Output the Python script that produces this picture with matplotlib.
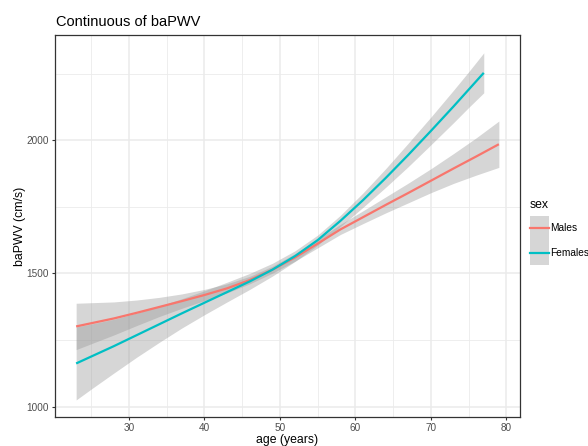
import numpy as np
import matplotlib
matplotlib.use('Agg')
import matplotlib.pyplot as plt
from matplotlib.patches import Rectangle
from matplotlib.lines import Line2D

plt.rcParams['font.family'] = ['Liberation Sans', 'DejaVu Sans']

# ---- valores ----
edad_h = [23, 25, 28, 31, 34, 37, 40, 43, 46, 49, 52, 55, 58, 61, 64, 67, 70, 73, 76, 79]
pwv_h = [1301, 1313, 1331, 1352, 1374, 1396, 1419, 1444, 1475, 1514, 1560, 1612,
         1665, 1711, 1757, 1802, 1848, 1894, 1939, 1985]
banda_h = [87, 77, 62, 48, 36, 27, 21, 17, 14, 13, 14, 16, 19, 24, 30, 37, 45, 56, 70, 87]

edad_m = [23, 25, 28, 31, 34, 37, 40, 43, 46, 49, 52, 55, 58, 61, 64, 67, 70, 73, 75, 77]
pwv_m = [1162, 1188, 1227, 1268, 1309, 1350, 1390, 1430, 1470, 1514, 1565, 1625,
         1697, 1775, 1858, 1945, 2035, 2127, 2190, 2253]
banda_m = [137, 122, 101, 83, 68, 55, 45, 37, 30, 24, 20, 19, 21, 27, 35, 44, 52, 61, 67, 75]

grupos = ['Males', 'Females']
colores = ['#F8766D', '#00BFC4']
x_ticks = [30, 40, 50, 60, 70, 80]
x_minor = [25, 35, 45, 55, 65, 75]
y_ticks = [1000, 1500, 2000]
y_minor = [1250, 1750, 2250]

W, H = 588, 446
fig = plt.figure(figsize=(W / 100, H / 100), dpi=100, facecolor='white')
ax = fig.add_axes([55 / W, 1 - 417 / H, 465 / W, 382 / H])
ax.set_facecolor('white')

series = [(edad_h, pwv_h, banda_h), (edad_m, pwv_m, banda_m)]
for (ed, v, b), col in zip(series, colores):
    ed = np.array(ed); v = np.array(v); b = np.array(b)
    ax.fill_between(ed, v - b, v + b, color='#999999', alpha=0.4, lw=0, zorder=2)
    ax.plot(ed, v, color=col, lw=1.6, zorder=3, solid_capstyle='butt')

ax.set_xlim(20.2, 81.8)
ax.set_ylim(961, 2395)
ax.set_xticks(x_ticks)
ax.set_yticks(y_ticks)
ax.set_xticks(x_minor, minor=True)
ax.set_yticks(y_minor, minor=True)
ax.grid(which='major', color='#EBEBEB', lw=1.1, zorder=0)
ax.grid(which='minor', color='#EBEBEB', lw=0.6, zorder=0)
ax.set_axisbelow(True)
ax.tick_params(which='major', length=2.5, width=0.8, color='#333333',
               labelsize=7.2, labelcolor='#4D4D4D', pad=2)
ax.tick_params(which='minor', length=0)
for s in ax.spines.values():
    s.set_color('#333333')
    s.set_linewidth(0.9)


def px(x, y):
    return x / W, 1 - y / H


# titulos de ejes y titulo
fig.text(*px(287.5, 445.5), 'age (years)', fontsize=8.8, ha='center', va='bottom')
fig.text(*px(20, 226), 'baPWV (cm/s)', fontsize=8.8, rotation=90,
         ha='center', va='center')
fig.text(*px(56, 26), 'Continuous of baPWV', fontsize=10.5,
         ha='left', va='baseline')

# ---- leyenda a mano ----
fig.text(*px(530, 208), 'sex', fontsize=8.8, ha='left', va='baseline')
key_h = 24.5
x0, y0 = px(530, 216 + 2 * key_h)
fig.add_artist(Rectangle((x0, y0), 19 / W, 2 * key_h / H, transform=fig.transFigure,
                         facecolor='#D6D6D6', lw=0))
for i, (g, col) in enumerate(zip(grupos, colores)):
    ym = 216 + i * key_h + key_h / 2
    fig.add_artist(Line2D([530 / W, 549 / W], [1 - ym / H] * 2, transform=fig.transFigure,
                          color=col, lw=1.6))
    fig.text(*px(550.5, ym), g, fontsize=7.3, ha='left', va='center')

fig.savefig('out.png', dpi=100, facecolor='white')
